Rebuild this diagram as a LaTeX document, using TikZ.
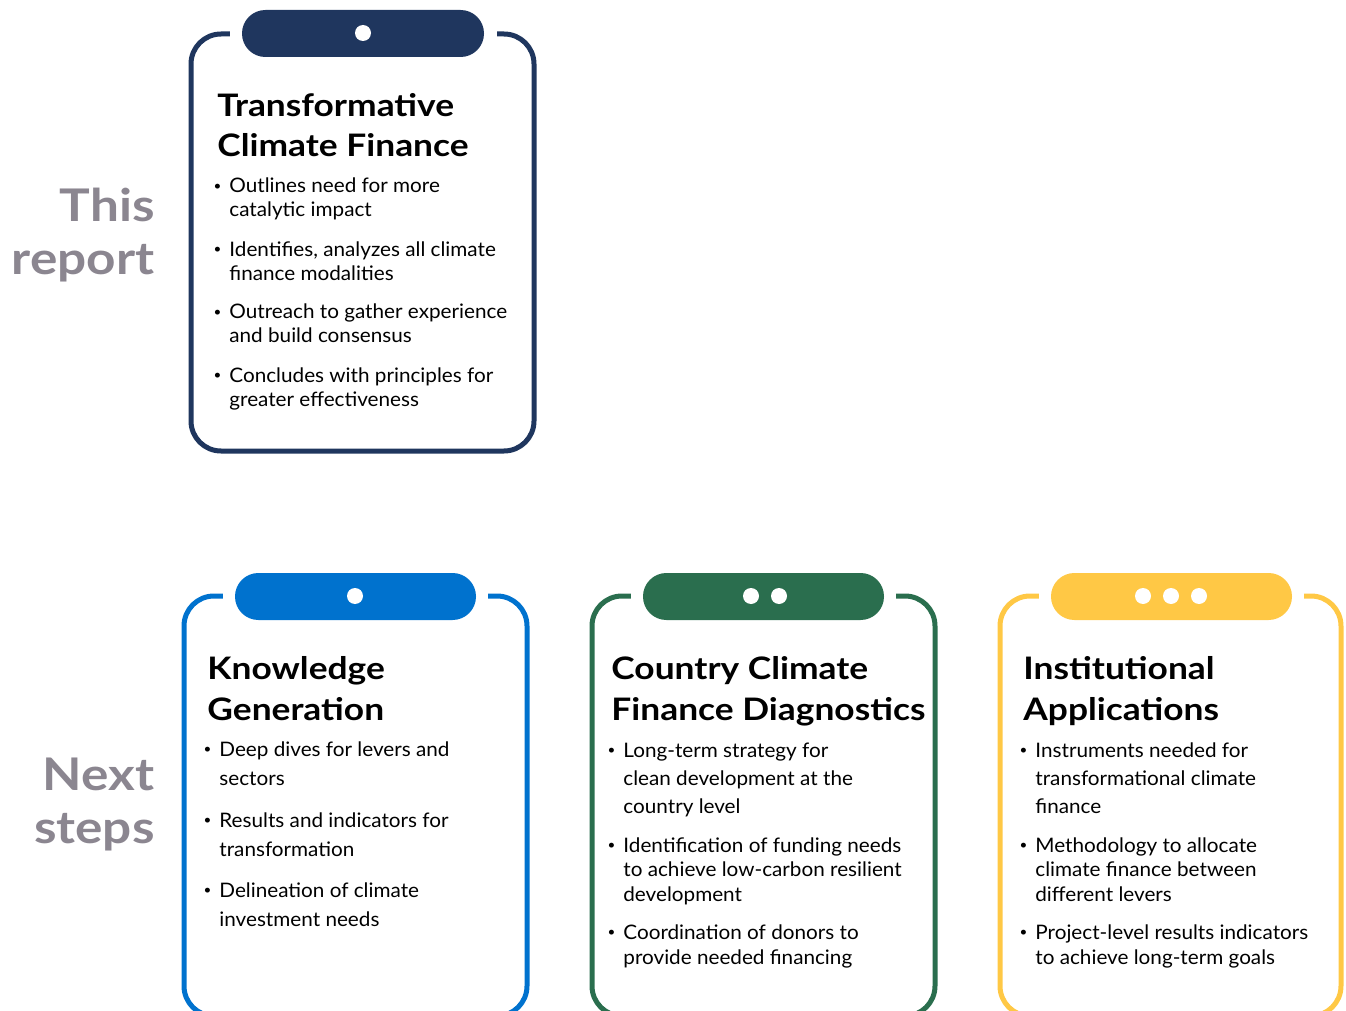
\documentclass[tikz,border=0pt]{standalone}
\usepackage{fontspec}
\setmainfont{Lato}[FakeStretch=1.035]
\newfontfamily\headfont{Lato}[FakeStretch=1.14]
\definecolor{navy}{HTML}{1F365E}
\definecolor{ocean}{HTML}{0072CE}
\definecolor{forest}{HTML}{2A6E4E}
\definecolor{sun}{HTML}{FFC845}
\definecolor{sidegray}{HTML}{8B8690}
\newcommand{\blt}{\llap{\raisebox{1.2pt}{\fontsize{6.5}{6.5}\selectfont\textbullet}\hspace{4pt}}}
\begin{document}
\begin{tikzpicture}[x=0.5pt,y=-0.5pt,line join=round]
  \tikzstyle{side}=[anchor=base east,align=right,inner sep=0pt,text=sidegray,font=\headfont\fontsize{22.5}{26.5}\selectfont\bfseries]
  \tikzstyle{title}=[anchor=base west,align=left,inner sep=0pt,font=\headfont\fontsize{15.5}{20.5}\selectfont\bfseries]
  \tikzstyle{item}=[anchor=base west,align=left,inner sep=0pt,font=\fontsize{10}{12}\selectfont]
  \tikzstyle{frame}=[line width=2.5pt,rounded corners=15pt]
  \tikzstyle{tab}=[rounded corners=11.7pt]
  \tikzstyle{hole}=[circle,fill=white,inner sep=0pt,minimum size=8pt]
  \useasboundingbox (0,0) rectangle (1346,1011);
  \clip (0,0) rectangle (1346,1011);

  % side labels (placed at the last baseline)
  \node[side] (this) at (155,275) {This\\report};
  \node[side] (next) at (155,843) {Next\\steps};

  % this report
  \draw[frame,navy] (191,34) rectangle (534,451);
  \fill[white] (230,24) rectangle (497,44);
  \fill[tab,navy] (242,10) rectangle (484,57);
  \node[hole] (tcf_h) at (363,33) {};
  \node[title] (tcf) at (217,157) {Transformative\\Climate Finance};
  \node[item] (tcf_1) at (229,217) {\blt Outlines need for more\\catalytic impact};
  \node[item] (tcf_2) at (229,280) {\blt Identifies, analyzes all climate\\finance modalities};
  \node[item] (tcf_3) at (229,343) {\blt Outreach to gather experience\\and build consensus};
  \node[item] (tcf_4) at (229,406) {\blt Concludes with principles for\\greater effectiveness};

  % knowledge generation
  \draw[frame,ocean] (184,596) rectangle (527,1016);
  \fill[white] (223,586) rectangle (488,606);
  \fill[tab,ocean] (235,573) rectangle (476,620);
  \node[hole] (kg_h) at (355,596) {};
  \node[title] (kg) at (207,720) {Knowledge\\Generation};
  \node[item,font=\fontsize{10}{14.5}\selectfont] (kg_1) at (219,785) {\blt Deep dives for levers and\\sectors};
  \node[item,font=\fontsize{10}{14.5}\selectfont] (kg_2) at (219,856) {\blt Results and indicators for\\transformation};
  \node[item,font=\fontsize{10}{14.5}\selectfont] (kg_3) at (219,926) {\blt Delineation of climate\\investment needs};

  % country diagnostics
  \draw[frame,forest] (592,596) rectangle (935,1016);
  \fill[white] (631,586) rectangle (896,606);
  \fill[tab,forest] (643,573) rectangle (884,620);
  \node[hole] (cd_h1) at (751,596) {};
  \node[hole] (cd_h2) at (779,596) {};
  \node[title] (cd) at (611,720) {Country Climate\\Finance Diagnostics};
  \node[item,font=\fontsize{10}{14}\selectfont] (cd_1) at (623,813) {\blt Long-term strategy for\\clean development at the\\country level};
  \node[item,font=\fontsize{10}{12.25}\selectfont] (cd_2) at (623,901) {\blt Identification of funding needs\\to achieve low-carbon resilient\\development};
  \node[item,font=\fontsize{10}{12.5}\selectfont] (cd_3) at (623,964) {\blt Coordination of donors to\\provide needed financing};

  % institutional applications
  \draw[frame,sun] (1000,596) rectangle (1341,1016);
  \fill[white] (1039,586) rectangle (1304,606);
  \fill[tab,sun] (1051,573) rectangle (1292,620);
  \node[hole] (ia_h1) at (1143,596) {};
  \node[hole] (ia_h2) at (1171,596) {};
  \node[hole] (ia_h3) at (1199,596) {};
  \node[title] (ia) at (1023,720) {Institutional\\Applications};
  \node[item,font=\fontsize{10}{14}\selectfont] (ia_1) at (1035,813) {\blt Instruments needed for\\transformational climate\\finance};
  \node[item,font=\fontsize{10}{12.25}\selectfont] (ia_2) at (1035,901) {\blt Methodology to allocate\\climate finance between\\different levers};
  \node[item,font=\fontsize{10}{12.5}\selectfont] (ia_3) at (1035,964) {\blt Project-level results indicators\\to achieve long-term goals};
\end{tikzpicture}
\end{document}
